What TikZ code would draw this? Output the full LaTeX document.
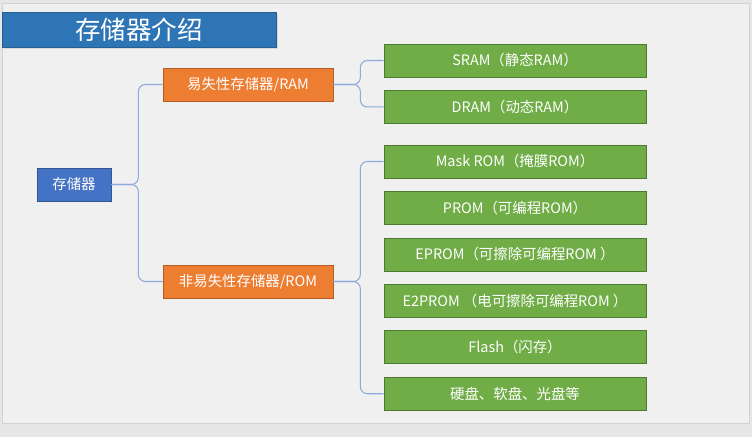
\documentclass[tikz,border=0pt]{standalone}
\usepackage{fontspec}
\setmainfont{Noto Sans CJK SC}
\usepackage{tikz}
\usetikzlibrary{positioning}

\definecolor{bgpage}{HTML}{F0F0F0}
\definecolor{bgframe}{HTML}{E6E6E6}
\definecolor{titleblue}{HTML}{2E75B6}
\definecolor{rootblue}{HTML}{4472C4}
\definecolor{midorange}{HTML}{ED7D31}
\definecolor{leafgreen}{HTML}{70AD47}
\definecolor{linkblue}{HTML}{8EA9DB}

\begin{document}
\begin{tikzpicture}[
        x=0.02cm, y=-0.02cm,
        node distance=0.255cm and 1cm,
        box/.style={rectangle, draw, text=white, font=\fontsize{8.2}{10}\selectfont, align=center, minimum height=0.66cm, inner sep=0pt},
        titlebar/.style={box, fill=titleblue, draw=titleblue!80!black, minimum width=5.48cm, minimum height=0.7cm, font=\fontsize{14.5}{16}\selectfont},
        rootbox/.style={box, fill=rootblue, draw=rootblue!75!black, minimum width=1.48cm},
        midbox/.style={box, fill=midorange, draw=midorange!75!black, minimum width=3.4cm},
        leafbox/.style={box, fill=leafgreen, draw=leafgreen!70!black, minimum width=5.24cm},
        link/.style={draw=linkblue, line width=0.6pt, rounded corners=4pt}
    ]

    % Page
    \fill[bgframe] (0,0) rectangle (752,437);
    \filldraw[fill=bgpage, draw=black!18] (2,3) rectangle (749,423);
    \useasboundingbox (0,0) rectangle (752,437);

    % Nodes
    \fill[black!15] (4,14) rectangle (278,49);
    \node[titlebar] (title) at (139,30) {存储器介绍};

    \node[rootbox] (root) at (74,184.5) {存储器};

    \node[midbox] (ram) at (248,84.5) {易失性存储器/RAM};
    \node[midbox] (rom) at (248,281.5) {非易失性存储器/ROM};

    \node[leafbox] (sram) at (515,60.5) {SRAM（静态RAM）};
    \node[leafbox, below=of sram] (dram) {DRAM（动态RAM）};

    \node[leafbox] (mask) at (515,161.5) {Mask ROM（掩膜ROM）};
    \node[leafbox, below=of mask] (prom) {PROM（可编程ROM）};
    \node[leafbox, below=of prom] (eprom) {EPROM（可擦除可编程ROM ）};
    \node[leafbox, below=of eprom] (eeprom) {E2PROM （电可擦除可编程ROM ）};
    \node[leafbox, below=of eeprom] (flash) {Flash（闪存）};
    \node[leafbox, below=of flash] (disk) {硬盘、软盘、光盘等};

    % Connectors
    \draw[link] (root.east) -- ++(27,0) |- (ram.west);
    \draw[link] (root.east) -- ++(27,0) |- (rom.west);
    \draw[link] (ram.east) -- ++(27,0) |- (sram.west);
    \draw[link] (ram.east) -- ++(27,0) |- (dram.west);
    \draw[link] (rom.east) -- ++(27,0) |- (mask.west);
    \draw[link] (rom.east) -- ++(27,0) |- (disk.west);

\end{tikzpicture}
\end{document}
